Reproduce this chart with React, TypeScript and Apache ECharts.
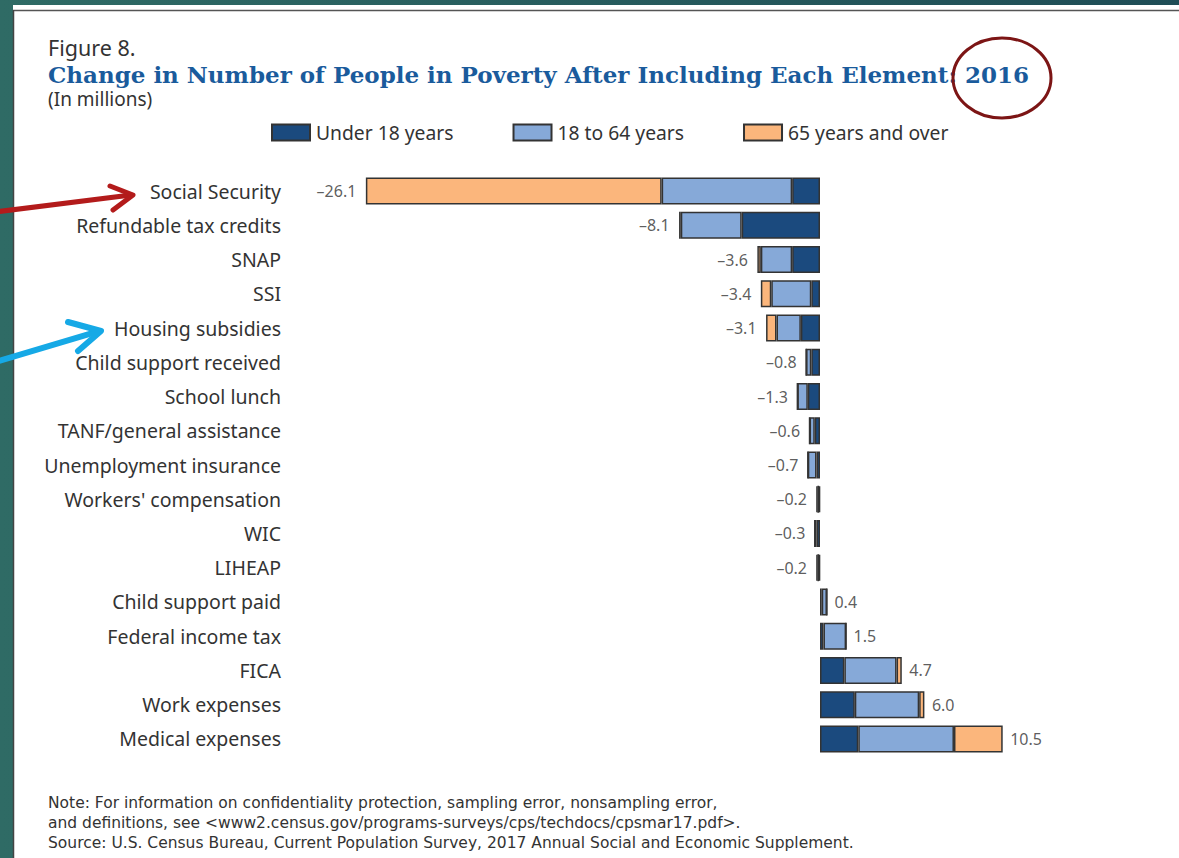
import React, { useEffect, useRef } from "react";
import * as echarts from "echarts";

const categories = [
  "Social Security",
  "Refundable tax credits",
  "SNAP",
  "SSI",
  "Housing subsidies",
  "Child support received",
  "School lunch",
  "TANF/general assistance",
  "Unemployment insurance",
  "Workers' compensation",
  "WIC",
  "LIHEAP",
  "Child support paid",
  "Federal income tax",
  "FICA",
  "Work expenses",
  "Medical expenses",
];

const under18 = [-1.6, -4.5, -1.6, -0.5, -1.1, -0.5, -0.7, -0.3, -0.2, -0.05, -0.2, -0.05, 0.1, 0.2, 1.4, 2.0, 2.2];
const age18to64 = [-7.5, -3.5, -1.8, -2.3, -1.4, -0.3, -0.6, -0.3, -0.5, -0.1, -0.1, -0.1, 0.3, 1.3, 3.0, 3.7, 5.5];
const age65plus = [-17.0, -0.1, -0.2, -0.6, -0.6, 0, 0, 0, 0, -0.05, 0, -0.05, 0, 0, 0.3, 0.3, 2.8];
const totals = [-26.1, -8.1, -3.6, -3.4, -3.1, -0.8, -1.3, -0.6, -0.7, -0.2, -0.3, -0.2, 0.4, 1.5, 4.7, 6.0, 10.5];

const seriesNames = ["Under 18 years", "18 to 64 years", "65 years and over"];
const seriesColors = ["#1b4a7e", "#86a9d8", "#fbb67c"];

const fmt = (v: number) => (v < 0 ? "\u2013" : "") + Math.abs(v).toFixed(1);

export default function App() {
  const ref = useRef<HTMLDivElement>(null);

  useEffect(() => {
    if (!ref.current) return;
    const chart = echarts.init(ref.current, null, { renderer: "svg" });

    const segs = [under18, age18to64, age65plus];
    const barEnds = categories.map((_, i) => segs.reduce((s, a) => s + a[i], 0));

    const barSeries = segs.map((d, k) => ({
      name: seriesNames[k],
      type: "bar",
      stack: "total",
      barWidth: 27,
      data: d,
      itemStyle: { color: seriesColors[k], borderColor: "#333333", borderWidth: 1.5 },
      emphasis: { disabled: true },
      z: 3,
    }));

    const labelSeries = {
      name: "labels",
      type: "scatter",
      symbolSize: 1,
      itemStyle: { color: "rgba(0,0,0,0)" },
      z: 4,
      data: categories.map((c, i) => ({
        value: [barEnds[i], c],
        label: {
          show: true,
          position: totals[i] < 0 ? "left" : "right",
          distance: totals[i] < 0 ? 9 : 7,
          formatter: fmt(totals[i]),
          fontSize: 16,
          fontFamily: "Noto Sans",
          color: "#333",
        },
      })),
    };

    const font = (w: string, s: number, f: string) => `${w} ${s}px ${f}`;
    const txt = (text: string, x: number, y: number, fontStr: string, fill: string) => ({
      type: "text",
      z: 50,
      style: {
        text,
        x,
        y,
        font: fontStr,
        fill,
        textVerticalAlign: "middle",
        verticalAlign: "middle",
      },
    });

    chart.setOption({
      animation: false,
      backgroundColor: {
        type: "linear",
        x: 0,
        y: 0,
        x2: 1,
        y2: 0,
        colorStops: [
          { offset: 0, color: "#2f6b65" },
          { offset: 1, color: "#1f4d56" },
        ],
      },
      legend: {
        data: seriesNames,
        left: 266,
        top: 118,
        itemWidth: 38,
        itemHeight: 16,
        itemGap: 59,
        icon: "rect",
        selectedMode: false,
        textStyle: { fontSize: 19.3, fontFamily: "Noto Sans", color: "#333", padding: [0, 0, 0, 1] },
      },
      grid: { left: 298, right: 98, top: 174, height: 582 },
      xAxis: { type: "value", min: -30, max: 15, show: false },
      yAxis: {
        type: "category",
        inverse: true,
        data: categories,
        axisLine: { show: false },
        axisTick: { show: false },
        splitLine: { show: false },
        axisLabel: { fontSize: 19.5, fontFamily: "Noto Sans", color: "#333", margin: 17 },
      },
      graphic: [
        {
          type: "rect",
          z: -10,
          silent: true,
          shape: { x: 13, y: 5, width: 1166, height: 853 },
          style: { fill: "#ffffff" },
        },
        {
          type: "line",
          z: -5,
          shape: { x1: 13, y1: 10.5, x2: 1179, y2: 10.5 },
          style: { stroke: "#555", lineWidth: 1.5 },
        },
        {
          type: "line",
          z: -5,
          shape: { x1: 13.5, y1: 10, x2: 13.5, y2: 858 },
          style: { stroke: "#444", lineWidth: 1.5 },
        },
        txt("Figure 8.", 48, 47, font("normal", 21.5, "Noto Sans"), "#333"),
        txt(
          "Change in Number of People in Poverty After Including Each Element: 2016",
          48,
          74,
          font("bold", 23, "DejaVu Serif"),
          "#1a5b9c"
        ),
        txt("(In millions)", 48, 99, font("normal", 19, "Noto Sans"), "#333"),
        txt(
          "Note: For information on confidentiality protection, sampling error, nonsampling error,",
          48,
          803,
          font("normal", 15.5, "DejaVu Sans"),
          "#333"
        ),
        txt(
          "and definitions, see <www2.census.gov/programs-surveys/cps/techdocs/cpsmar17.pdf>.",
          48,
          823,
          font("normal", 15.5, "DejaVu Sans"),
          "#333"
        ),
        txt(
          "Source: U.S. Census Bureau, Current Population Survey, 2017 Annual Social and Economic Supplement.",
          48,
          843,
          font("normal", 15.5, "DejaVu Sans"),
          "#333"
        ),
        {
          type: "ellipse",
          z: 60,
          shape: { cx: 1002, cy: 78, rx: 49, ry: 40 },
          style: { fill: "none", stroke: "#7c1515", lineWidth: 3 },
        },
        {
          type: "line",
          z: 60,
          shape: { x1: -5, y1: 212, x2: 131, y2: 195 },
          style: { stroke: "#b31b1b", lineWidth: 5, lineCap: "round" },
        },
        {
          type: "polyline",
          z: 60,
          shape: { points: [[110, 186], [133, 195], [113, 210]] },
          style: { stroke: "#b31b1b", fill: "none", lineWidth: 5, lineCap: "round", lineJoin: "round" },
        },
        {
          type: "line",
          z: 60,
          shape: { x1: -5, y1: 362, x2: 99, y2: 331 },
          style: { stroke: "#16a9e6", lineWidth: 6, lineCap: "round" },
        },
        {
          type: "polyline",
          z: 60,
          shape: { points: [[68, 322], [101, 331], [78, 351]] },
          style: { stroke: "#16a9e6", fill: "none", lineWidth: 6, lineCap: "round", lineJoin: "round" },
        },
      ],
      series: [...barSeries, labelSeries],
    });

    return () => chart.dispose();
  }, []);

  return (
    <div
      ref={ref}
      style={{ position: "absolute", left: 0, top: 0, width: 1179, height: 858 }}
    />
  );
}
